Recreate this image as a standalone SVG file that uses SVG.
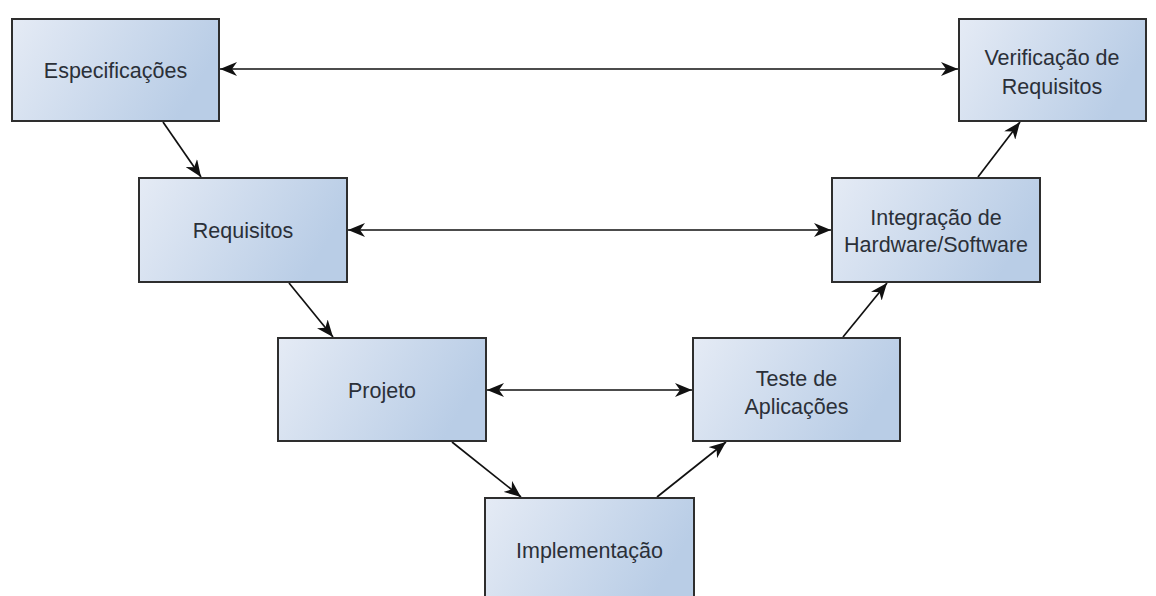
<svg xmlns="http://www.w3.org/2000/svg" width="1156" height="596" viewBox="0 0 1156 596">
<style>
.box{fill:url(#g);stroke:#2e2e2e;stroke-width:2}
.lbl{font-family:"Liberation Sans",Arial,sans-serif;font-size:21.5px;fill:#2b3038;text-anchor:middle}
.con{stroke:#111;stroke-width:1.7;fill:none}
</style>
<defs>
<linearGradient id="g" x1="0" y1="0" x2="1" y2="0.3">
<stop offset="0" stop-color="#e5ebf5"/>
<stop offset="1" stop-color="#b9cde6"/>
</linearGradient>
<marker id="ah" viewBox="0 0 17 14" refX="17" refY="7" markerWidth="17" markerHeight="14" markerUnits="userSpaceOnUse" orient="auto-start-reverse">
<path d="M0,0 L17,7 L0,14 L5,7 Z" fill="#111"/>
</marker>
</defs>
<rect width="1156" height="596" fill="#fff"/>
<g id="connectors">
<line class="con" x1="220" y1="69" x2="958" y2="69" marker-start="url(#ah)" marker-end="url(#ah)"/>
<line class="con" x1="348" y1="230" x2="831" y2="230" marker-start="url(#ah)" marker-end="url(#ah)"/>
<line class="con" x1="487" y1="390" x2="692" y2="390" marker-start="url(#ah)" marker-end="url(#ah)"/>
<line class="con" x1="163" y1="122" x2="201" y2="177" marker-end="url(#ah)"/>
<line class="con" x1="289" y1="283" x2="333" y2="337" marker-end="url(#ah)"/>
<line class="con" x1="452" y1="442" x2="521" y2="497" marker-end="url(#ah)"/>
<line class="con" x1="657" y1="497" x2="726" y2="442" marker-end="url(#ah)"/>
<line class="con" x1="843" y1="337" x2="887" y2="283" marker-end="url(#ah)"/>
<line class="con" x1="978" y1="177" x2="1020" y2="122" marker-end="url(#ah)"/>
</g>
<g id="especificacoes"><rect class="box" x="12" y="19" width="207" height="102"/><text class="lbl" x="115.5" y="78">Especificações</text></g>
<g id="requisitos"><rect class="box" x="139" y="178" width="208" height="104"/><text class="lbl" x="243" y="238">Requisitos</text></g>
<g id="projeto"><rect class="box" x="278" y="338" width="208" height="103"/><text class="lbl" x="382" y="398">Projeto</text></g>
<g id="implementacao"><rect class="box" x="485" y="498" width="209" height="104"/><text class="lbl" x="589.5" y="558">Implementação</text></g>
<g id="teste"><rect class="box" x="693" y="338" width="207" height="103"/><text class="lbl" x="796.5" y="386">Teste de</text><text class="lbl" x="796.5" y="414">Aplicações</text></g>
<g id="integracao"><rect class="box" x="832" y="178" width="208" height="104"/><text class="lbl" x="936" y="225">Integração de</text><text class="lbl" x="936" y="252">Hardware/Software</text></g>
<g id="verificacao"><rect class="box" x="959" y="19" width="187" height="102"/><text class="lbl" x="1052" y="65">Verificação de</text><text class="lbl" x="1052" y="94">Requisitos</text></g>
</svg>
